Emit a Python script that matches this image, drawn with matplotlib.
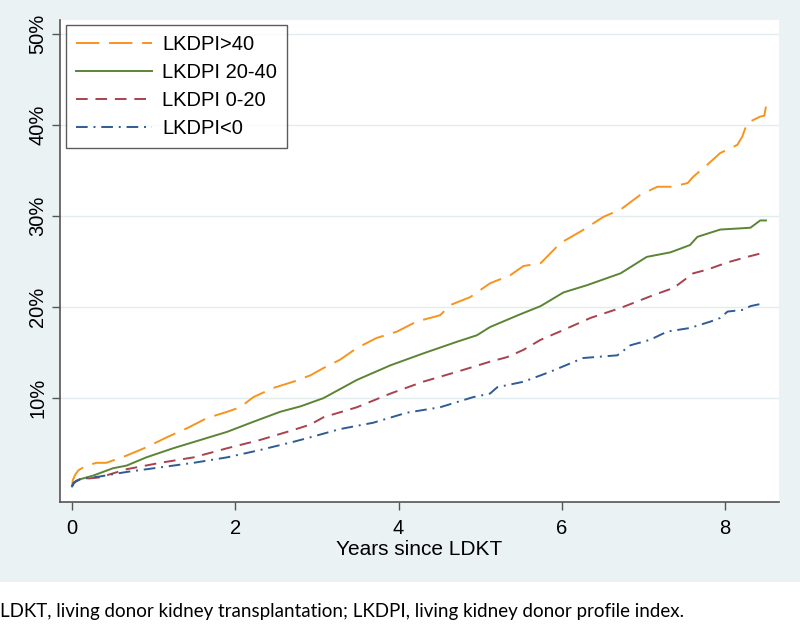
import matplotlib
matplotlib.use("Agg")
import matplotlib.pyplot as plt
from matplotlib.patches import Rectangle
from matplotlib.ticker import FuncFormatter

# cumulative incidence (%) by LKDPI group
t_gt40 = [0, 0.01, 0.04, 0.08, 0.18, 0.30, 0.42, 0.67, 0.91, 1.16, 1.41, 1.65, 1.90, 2.06,
          2.22, 2.46, 2.71, 2.92, 3.08, 3.28, 3.49, 3.73, 3.98, 4.22, 4.51, 4.63, 4.88, 5.12,
          5.37, 5.53, 5.74, 5.98, 6.25, 6.51, 6.72, 6.96, 7.17, 7.35, 7.54, 7.61, 7.78, 7.94,
          8.15, 8.21, 8.27, 8.43, 8.48, 8.50]
v_gt40 = [0.3, 1.0, 1.6, 2.1, 2.6, 2.9, 2.9, 3.7, 4.6, 5.7, 6.7, 7.8, 8.5, 9.0,
          10.1, 11.1, 11.8, 12.5, 13.3, 14.2, 15.5, 16.6, 17.3, 18.4, 19.1, 20.2, 21.1, 22.6,
          23.5, 24.5, 24.8, 27.0, 28.4, 29.9, 30.7, 32.3, 33.2, 33.2, 33.6, 34.3, 35.6, 36.9,
          37.8, 38.7, 40.2, 40.9, 41.0, 42.0]

t_20_40 = [0, 0.02, 0.04, 0.10, 0.26, 0.50, 0.67, 0.91, 1.24, 1.57, 1.90, 2.22, 2.55, 2.80,
           3.08, 3.49, 3.90, 4.30, 4.72, 4.96, 5.12, 5.49, 5.74, 6.02, 6.31, 6.72, 7.04, 7.33,
           7.57, 7.66, 7.94, 8.31, 8.43, 8.50]
v_20_40 = [0.3, 0.6, 0.8, 1.1, 1.5, 2.3, 2.6, 3.5, 4.5, 5.4, 6.3, 7.4, 8.5, 9.1,
           10.0, 12.0, 13.6, 14.9, 16.2, 16.9, 17.8, 19.2, 20.1, 21.6, 22.4, 23.7, 25.5, 26.0,
           26.8, 27.7, 28.5, 28.7, 29.5, 29.5]

t_0_20 = [0, 0.02, 0.05, 0.10, 0.34, 0.67, 1.08, 1.49, 1.90, 2.30, 2.71, 2.92, 3.08, 3.49,
          3.90, 4.30, 4.72, 5.12, 5.33, 5.53, 5.74, 6.00, 6.35, 6.72, 7.12, 7.37, 7.61, 7.78,
          8.03, 8.27, 8.49]
v_0_20 = [0.3, 0.7, 0.9, 1.1, 1.3, 2.2, 2.9, 3.5, 4.5, 5.4, 6.5, 7.1, 7.9, 9.0,
          10.5, 11.8, 12.9, 14.0, 14.5, 15.3, 16.4, 17.4, 18.8, 19.9, 21.3, 22.1, 23.7, 24.1,
          24.9, 25.5, 26.0]

t_lt0 = [0, 0.02, 0.05, 0.10, 0.34, 0.67, 1.08, 1.49, 1.90, 2.30, 2.71, 2.92, 3.28, 3.69,
         4.10, 4.51, 4.91, 5.12, 5.21, 5.53, 5.74, 5.86, 6.26, 6.68, 6.84, 7.08, 7.29, 7.57,
         7.82, 7.94, 8.03, 8.23, 8.31, 8.47]
v_lt0 = [0.3, 0.7, 0.9, 1.1, 1.4, 1.9, 2.4, 2.9, 3.5, 4.3, 5.2, 5.7, 6.6, 7.3,
         8.4, 9.0, 10.1, 10.5, 11.2, 11.8, 12.5, 12.9, 14.4, 14.7, 15.8, 16.4, 17.3, 17.7,
         18.4, 18.8, 19.5, 19.7, 20.1, 20.4]

labels = ["LKDPI>40", "LKDPI 20-40", "LKDPI 0-20", "LKDPI<0"]
x_ticks = [0, 2, 4, 6, 8]
y_ticks = [10, 20, 30, 40, 50]

plt.rcParams['font.family'] = ['Liberation Sans', 'DejaVu Sans']

fig = plt.figure(figsize=(8, 6.31), dpi=100)
# Stata-style light panel behind the graph
fig.patches.append(Rectangle((0, 1 - 582 / 631), 1, 582 / 631, transform=fig.transFigure,
                             facecolor="#eaf2f3", edgecolor="none", zorder=-10))
ax = fig.add_axes([60 / 800, 1 - 502 / 631, 719 / 800, 482 / 631])
ax.set_facecolor("white")

ax.plot(t_gt40, v_gt40, color="#f7941d", lw=1.4, dashes=(12, 5), label=labels[0])
ax.plot(t_20_40, v_20_40, color="#5b8535", lw=1.4, label=labels[1])
ax.plot(t_0_20, v_0_20, color="#a8424e", lw=1.4, dashes=(6, 4), label=labels[2])
ax.plot(t_lt0, v_lt0, color="#2f5c94", lw=1.4, dashes=(6, 3, 1, 3), label=labels[3])

ax.set_xlim(-0.147, 8.66)
ax.set_ylim(-1.4, 51.5)
ax.set_xticks(x_ticks)
ax.set_yticks(y_ticks)
ax.yaxis.set_major_formatter(FuncFormatter(lambda v, p: f"{int(v)}%"))
ax.grid(axis="y", color="#e3edef", lw=1)
ax.set_axisbelow(True)

for s in ["top", "right"]:
    ax.spines[s].set_visible(False)
for s in ["left", "bottom"]:
    ax.spines[s].set_color("#555555")
    ax.spines[s].set_linewidth(1.2)
ax.tick_params(axis="both", length=6, width=1, color="#555555", labelsize=14.5, pad=3)
ax.tick_params(axis="x", pad=6)
for lab in ax.get_yticklabels():
    lab.set_rotation(90)
    lab.set_va("center")

ax.set_xlabel("Years since LDKT", fontsize=15, labelpad=2)

leg = ax.legend(loc="upper left", bbox_to_anchor=(0.008, 0.99), borderaxespad=0,
                fontsize=14.5, handlelength=3.8, handletextpad=0.5, frameon=True,
                fancybox=False, edgecolor="#333333", labelspacing=0.45, borderpad=0.5)
leg.get_frame().set_linewidth(1)

fig.text(0.0, 1 - 612 / 631, "LDKT, living donor kidney transplantation; LKDPI, living kidney donor profile index.",
         fontsize=13.5, family=["Lato", "DejaVu Sans"], va="center", ha="left")

fig.savefig("out.png", dpi=100)
